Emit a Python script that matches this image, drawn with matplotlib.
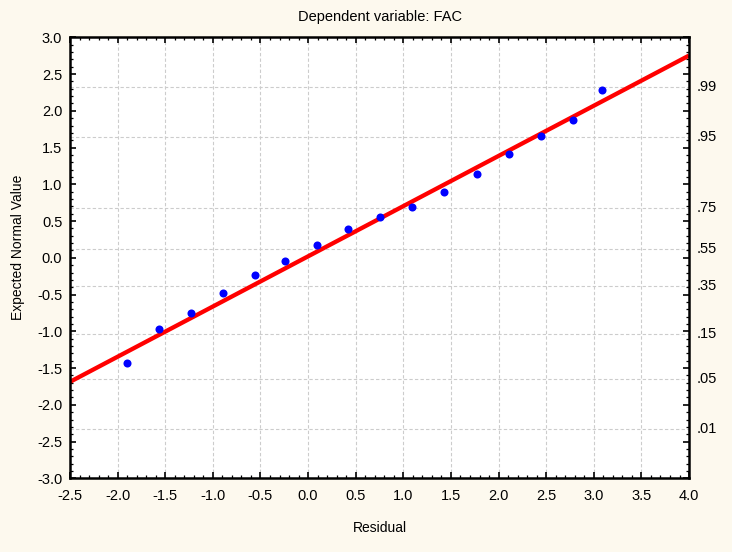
import matplotlib
matplotlib.use("Agg")
import matplotlib.pyplot as plt
from matplotlib.ticker import MultipleLocator
import numpy as np

# Residuals and their expected normal values
residual = [-1.905, -1.569, -1.233, -0.898, -0.562, -0.244, 0.092, 0.424,
            0.760, 1.096, 1.432, 1.771, 2.110, 2.443, 2.782, 3.090]
expected_normal = [-1.43, -0.965, -0.747, -0.475, -0.23, -0.04, 0.178, 0.396,
                   0.559, 0.695, 0.891, 1.136, 1.408, 1.657, 1.875, 2.283]

# Fitted reference line: y = intercept + slope * x
fit_intercept = 0.020
fit_slope = 0.683

# Cumulative probability labels on the right and their normal quantiles
prob_labels = [".01", ".05", ".15", ".35", ".55", ".75", ".95", ".99"]
prob_quantiles = [-2.326, -1.645, -1.036, -0.385, 0.126, 0.674, 1.645, 2.326]

x_min, x_max = -2.5, 4.0
y_min, y_max = -3.0, 3.0

plt.rcParams['font.family'] = ['Liberation Sans', 'DejaVu Sans']

fig = plt.figure(figsize=(7.32, 5.52), dpi=100)
fig.patch.set_facecolor('#FDF9EE')
ax = fig.add_axes([0.0956, 0.1335, 0.8457, 0.7989])
ax.set_facecolor('white')
ax.set_xlim(x_min, x_max)
ax.set_ylim(y_min, y_max)

# Grid: verticals at each x major tick, horizontals at probability levels
grid_kw = dict(color='#CCCCCC', linestyle=(0, (3, 2)), linewidth=0.8, zorder=0)
for xv in np.arange(-2.0, 4.0, 0.5):
    ax.axvline(xv, **grid_kw)
for q in prob_quantiles:
    ax.axhline(q, **grid_kw)

# Fitted line
xs = np.array([x_min, x_max])
ax.plot(xs, fit_intercept + fit_slope * xs, color='#FF0000', linewidth=3.1,
        solid_capstyle='butt', zorder=2)

# Points
ax.plot(residual, expected_normal, 'o', color='#0000FF', markersize=5.8,
        markeredgewidth=0, zorder=3)

# Ticks
ax.xaxis.set_major_locator(MultipleLocator(0.5))
ax.xaxis.set_minor_locator(MultipleLocator(0.1))
ax.yaxis.set_major_locator(MultipleLocator(0.5))
ax.yaxis.set_minor_locator(MultipleLocator(0.1))
ax.tick_params(which='major', direction='in', length=4, width=1.2,
               top=True, right=True, labelsize=10.5, colors='black')
ax.tick_params(which='minor', direction='in', length=2, width=0.9,
               top=True, right=True)
ax.tick_params(axis='x', which='major', pad=8)
ax.tick_params(axis='y', which='major', pad=5.5)
ax.set_xticklabels([f"{v:.1f}" for v in ax.get_xticks()])
ax.set_yticklabels([f"{v:.1f}" for v in ax.get_yticks()])

for s in ax.spines.values():
    s.set_linewidth(1.8)
    s.set_color('black')

# Probability labels on the right
for lab, q in zip(prob_labels, prob_quantiles):
    ax.text(1.013, (q - y_min) / (y_max - y_min), lab, transform=ax.transAxes,
            ha='left', va='center', fontsize=10.5)

ax.set_title("Dependent variable: FAC", fontsize=10.5, pad=12)
ax.set_xlabel("Residual", fontsize=10, labelpad=13)
ax.set_ylabel("Expected Normal Value", fontsize=10)
ax.yaxis.set_label_coords(-0.072, 0.5245)

fig.savefig("out.png", dpi=100, facecolor=fig.get_facecolor())
